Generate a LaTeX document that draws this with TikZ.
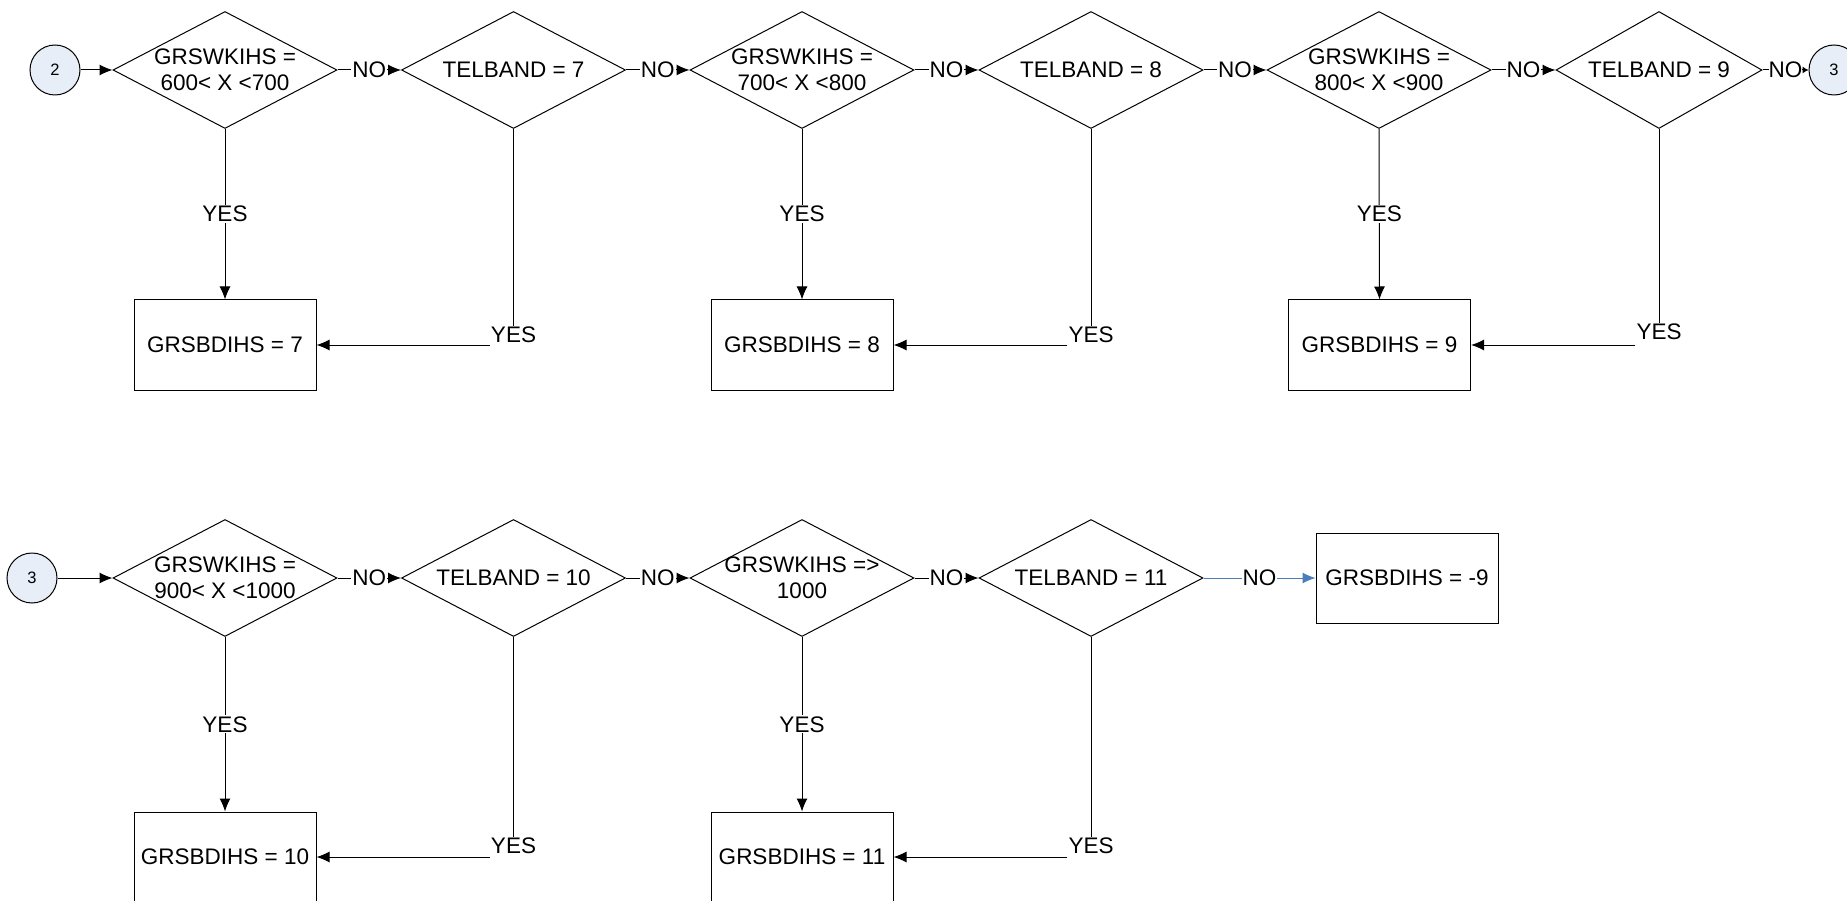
\documentclass[tikz,border=0pt]{standalone}
\usepackage{fontspec}
\setmainfont{Liberation Sans}
\usetikzlibrary{shapes.geometric,arrows.meta}
\definecolor{circfill}{HTML}{E8EEF8}
\definecolor{noblue}{HTML}{4A7EBB}
\begin{document}
\begin{tikzpicture}[x=1pt,y=-1pt,
  every node/.style={font=\fontsize{22.5}{26}\selectfont},
  qdia/.style={draw, shape=diamond, aspect=1.91, inner sep=0pt, minimum width=224pt, minimum height=117pt, align=center, line width=1pt},
  outbox/.style={draw, rectangle, minimum width=182pt, minimum height=90pt, inner sep=0pt, line width=1pt},
  conn/.style={draw, circle, fill=circfill, minimum size=50pt, inner sep=0pt, line width=1pt, font=\fontsize{16.5}{19}\selectfont},
  lbl/.style={fill=white, inner sep=1pt},
  seg/.style={line width=1pt},
  flow/.style={line width=1pt, -{Latex[length=13pt,width=11pt]}},
]
\useasboundingbox (0,0) rectangle (1847,901);

% ---------- row 1 ----------
\node[conn] (c2) at (55,70) {2};
\node[qdia] (a1) at (225,70) {GRSWKIHS =\\600< X <700};
\node[qdia] (a2) at (513.5,70) {TELBAND = 7};
\node[qdia] (a3) at (802,70) {GRSWKIHS =\\700< X <800};
\node[qdia] (a4) at (1091,70) {TELBAND = 8};
\node[qdia] (a5) at (1379,70) {GRSWKIHS =\\800< X <900};
\node[qdia, minimum width=206pt] (a6) at (1659,70) {TELBAND = 9};
\node[conn] (c3a) at (1834,70) {3};

\node[outbox] (r7) at (225,345) {GRSBDIHS = 7};
\node[outbox] (r8) at (802,345) {GRSBDIHS = 8};
\node[outbox] (r9) at (1379.5,345) {GRSBDIHS = 9};

\node[lbl] (y7) at (513.5,335) {YES};
\node[lbl] (y8) at (1091,335) {YES};
\node[lbl] (y9) at (1659,332) {YES};

\draw[flow] (c2.east) -- (a1.west);
\draw[flow] (a1.east) -- node[lbl]{NO} (a2.west);
\draw[flow] (a2.east) -- node[lbl]{NO} (a3.west);
\draw[flow] (a3.east) -- node[lbl]{NO} (a4.west);
\draw[flow] (a4.east) -- node[lbl]{NO} (a5.west);
\draw[flow] (a5.east) -- node[lbl]{NO} (a6.west);
\draw[seg, -{Latex[length=6pt,width=7pt]}] (a6.east) -- node[lbl, inner sep=0pt]{NO} (c3a.west);

\draw[flow] (a1.south) -- node[lbl]{YES} (r7.north);
\draw[flow] (a3.south) -- node[lbl]{YES} (r8.north);
\draw[flow] (a5.south) -- node[lbl]{YES} (r9.north);

\draw[seg] (a2.south) -- (a2.south |- y7.north);
\draw[flow] (y7.west |- r7.east) -- (r7.east);
\draw[seg] (a4.south) -- (a4.south |- y8.north);
\draw[flow] (y8.west |- r8.east) -- (r8.east);
\draw[seg] (a6.south) -- (a6.south |- y9.north);
\draw[flow] (y9.west |- r9.east) -- (r9.east);

% ---------- row 2 ----------
\node[conn] (c3b) at (32,578) {3};
\node[qdia] (b1) at (225,578) {GRSWKIHS =\\900< X <1000};
\node[qdia] (b2) at (513.5,578) {TELBAND = 10};
\node[qdia] (b3) at (802,578) {\makebox[0pt]{GRSWKIHS =>}\\1000};
\node[qdia] (b4) at (1091,578) {TELBAND = 11};
\node[outbox] (rm9) at (1407,578) {GRSBDIHS = -9};

\node[outbox] (r10) at (225,857) {GRSBDIHS = 10};
\node[outbox] (r11) at (802,857) {GRSBDIHS = 11};

\node[lbl] (y10) at (513.5,846) {YES};
\node[lbl] (y11) at (1091,846) {YES};

\draw[flow] (c3b.east) -- (b1.west);
\draw[flow] (b1.east) -- node[lbl]{NO} (b2.west);
\draw[flow] (b2.east) -- node[lbl]{NO} (b3.west);
\draw[flow] (b3.east) -- node[lbl]{NO} (b4.west);
\draw[flow, draw=noblue, fill=noblue] (b4.east) -- node[lbl, text=black]{NO} (rm9.west);

\draw[flow] (b1.south) -- node[lbl]{YES} (r10.north);
\draw[flow] (b3.south) -- node[lbl]{YES} (r11.north);

\draw[seg] (b2.south) -- (b2.south |- y10.north);
\draw[flow] (y10.west |- r10.east) -- (r10.east);
\draw[seg] (b4.south) -- (b4.south |- y11.north);
\draw[flow] (y11.west |- r11.east) -- (r11.east);
\end{tikzpicture}
\end{document}
